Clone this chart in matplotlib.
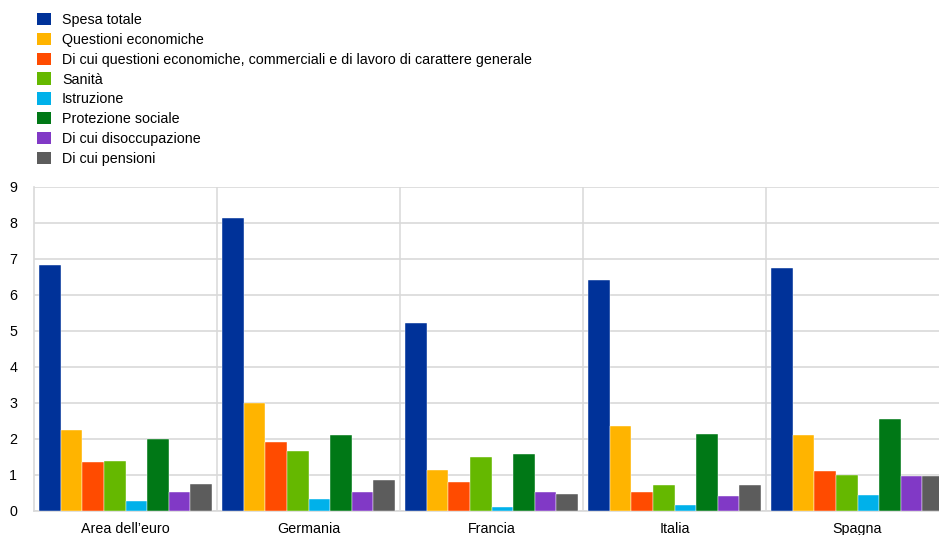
import numpy as np
import matplotlib
matplotlib.use("Agg")
import matplotlib.pyplot as plt
from matplotlib.patches import Patch

plt.rcParams["font.family"] = ["Liberation Sans", "DejaVu Sans"]

paesi = ["Area dell\u2019euro", "Germania", "Francia", "Italia", "Spagna"]
serie = ["Spesa totale", "Questioni economiche",
         "Di cui questioni economiche, commerciali e di lavoro di carattere generale",
         "Sanità", "Istruzione", "Protezione sociale",
         "Di cui disoccupazione", "Di cui pensioni"]
colori = ["#003299", "#FFB400", "#FF4B00", "#65B800",
          "#00B1EA", "#007816", "#8139C6", "#5C5C5C"]

spesa_totale = [6.82, 8.14, 5.21, 6.41, 6.74]
quest_econ = [2.24, 3.01, 1.15, 2.36, 2.10]
quest_gen = [1.35, 1.91, 0.81, 0.54, 1.10]
sanita = [1.39, 1.67, 1.49, 0.73, 1.01]
istruzione = [0.29, 0.32, 0.12, 0.18, 0.44]
prot_sociale = [2.01, 2.10, 1.57, 2.13, 2.55]
disoccupazione = [0.53, 0.52, 0.54, 0.43, 0.96]
pensioni = [0.76, 0.87, 0.48, 0.71, 0.98]

valori = [spesa_totale, quest_econ, quest_gen, sanita,
          istruzione, prot_sociale, disoccupazione, pensioni]

fig = plt.figure(figsize=(9.39, 5.35), dpi=100)
# plot area spills past the right edge like the original
ax = fig.add_axes([34 / 939, 24 / 535, 915 / 939, 324 / 535])

x = np.arange(len(paesi))
larg = 0.94 / len(serie)
for i, (v, c) in enumerate(zip(valori, colori)):
    pos = x - 0.47 + larg * (i + 0.5)
    ax.bar(pos, v, width=larg, color=c, edgecolor="white", linewidth=0.3, zorder=3)

ax.set_xlim(-0.5, len(paesi) - 0.5)
ax.set_ylim(0, 9)
ax.set_yticks(range(10))
ax.set_xticks(x)
ax.set_xticklabels(paesi)
ax.tick_params(axis="both", length=0, labelsize=10.3, colors="black")
ax.tick_params(axis="x", pad=8)
ax.tick_params(axis="y", pad=12)
for lab in ax.get_yticklabels():
    lab.set_horizontalalignment("right")

ax.yaxis.grid(True, color="#d9d9d9", linewidth=1.2, zorder=0)
for b in np.arange(0.5, len(paesi) - 0.5, 1):
    ax.axvline(b, color="#dcdcdc", linewidth=1.2, zorder=0)
for s in ["top", "right"]:
    ax.spines[s].set_visible(False)
for s in ["left", "bottom"]:
    ax.spines[s].set_color("#d9d9d9")
    ax.spines[s].set_linewidth(1.2)

maniglie = [Patch(facecolor=c, edgecolor="none") for c in colori]
fig.legend(maniglie, serie, loc="upper left", bbox_to_anchor=(37 / 939, 1 - 13 / 535),
           frameon=False, fontsize=10.3, handlelength=0.95, handleheight=0.95,
           handletextpad=0.8, labelspacing=0.4, borderpad=0, borderaxespad=0)

fig.savefig("out.png", dpi=100)
